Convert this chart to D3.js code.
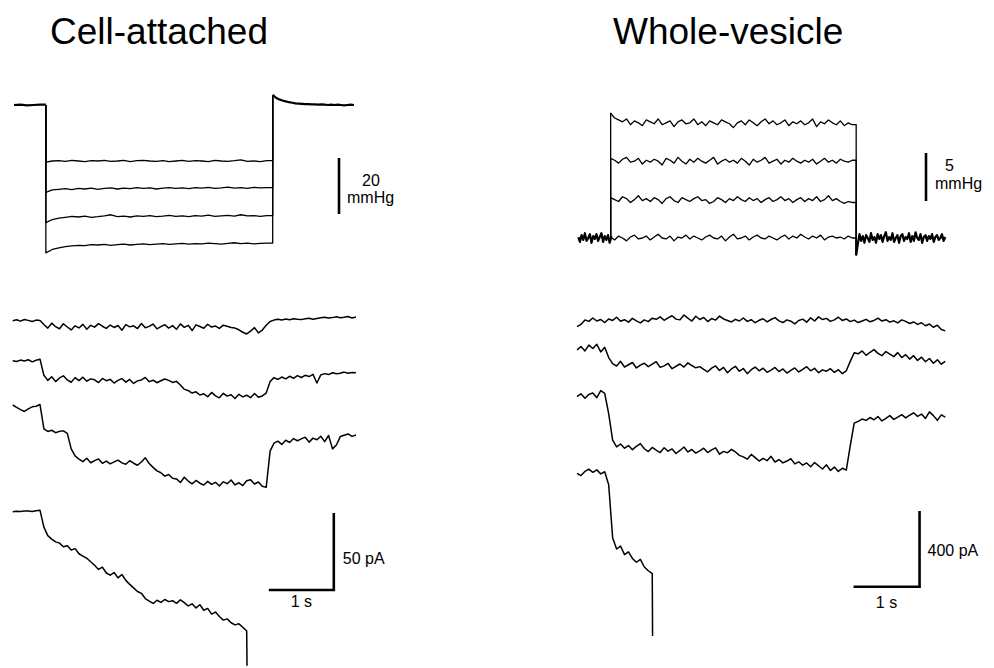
<!DOCTYPE html>
<meta charset="utf-8">
<title>Cell-attached / Whole-vesicle</title>
<style>
  body { margin: 0; background: #fff; }
  svg text { font-family: "Liberation Sans", Arial, sans-serif; fill: #000; }
</style>
<div id="viz"></div>
<script src="https://cdnjs.cloudflare.com/ajax/libs/d3/7.8.5/d3.min.js"></script>
<script>

// ---------- data ----------
var panelTitles = ["Cell-attached", "Whole-vesicle"];

// cell-attached pressure, mmHg (step from 0.51 s to 4.0 s)
var cellStepOn = 0.51, cellStepOff = 4.0;
var cellPressurePre = [0, 0.1, -0.1, 0.0, 0.1];                 // dt 0.1 s
var cellP20 = [-20.4, -20.0, -19.9, -20.1, -19.8, -20.0, -20.2, -19.9, -20.0, -19.8,
               -20.1, -20.0, -19.8, -20.2, -19.9, -19.8, -20.0, -20.1, -19.9, -20.2,
               -20.0, -19.8, -20.1, -19.9, -20.0, -20.2, -19.8, -20.0, -20.1, -19.9,
               -19.6, -20.1, -20.0, -20.2, -19.9];
var cellP30 = [-31.2, -30.3, -30.1, -29.9, -30.2, -29.8, -30.0, -29.7, -30.1, -29.8,
               -29.6, -30.0, -29.7, -29.9, -29.5, -29.8, -29.6, -30.0, -29.7, -29.5,
               -29.8, -29.6, -29.9, -29.5, -29.7, -29.4, -29.8, -29.6, -29.3, -29.7,
               -29.5, -29.8, -29.4, -29.6, -29.5];
var cellP40 = [-42.0, -40.9, -40.4, -40.1, -39.8, -40.0, -39.7, -40.1, -39.9, -39.6,
               -39.2, -39.9, -39.7, -40.0, -39.6, -39.8, -39.5, -39.9, -39.7, -39.4,
               -39.8, -39.6, -39.9, -39.5, -39.7, -39.3, -39.8, -39.6, -39.4, -39.7,
               -39.2, -39.6, -39.5, -39.8, -39.5];
var cellP50 = [-52.8, -51.6, -51.0, -50.6, -50.3, -50.1, -50.2, -49.9, -50.0, -49.8,
               -50.1, -49.9, -49.7, -50.0, -49.8, -49.6, -49.9, -49.7, -49.5, -49.8,
               -49.6, -49.4, -49.7, -49.5, -49.6, -49.3, -49.5, -49.7, -49.4, -49.2,
               -49.5, -49.3, -49.6, -49.4, -49.3];
var cellPressurePost = [3.6, 2.6, 2.0, 1.6, 1.3, 1.0, 0.8, 0.6, 0.5, 0.4, 0.3, 0.3, 0.2,
                        0.2, 0.1, 0.2, 0.1, 0.0, 0.1, 0.0, 0.1, 0.0, -0.1, 0.0, 0.1, 0.0]; // dt 0.05 s

// cell-attached currents, pA, dt 0.06 s
var cellI1 = [0, 0.6, -0.3, 0.8, 0.2, -0.5, 0.4, 0.1,
  -2.5, -4.8, -1.6, -3.9, -5.2, -2.0, -4.1, -6.0, -3.3, -4.7, -2.4, -5.5, -3.0,
  -4.2, -1.9, -3.6, -5.0, -2.8, -4.4, -3.1, -6.2, -2.5, -4.0, -3.3, -5.1, -1.8, -4.6, -3.7, -2.2, -5.3, -3.9, -2.6, -4.8,
  -3.2, -5.6, -2.1, -4.3, -3.0, -6.4, -2.7, -3.8, -4.9, -2.3, -4.1, -3.5, -5.0, -2.9, -3.6, -4.4,
  -4.8, -5.9, -7.5, -8.6, -6.8, -4.5, -7.9, -6.1, -3.0,
  -0.5, 0.4, 0.9, 0.5, 1.1, 0.6, 1.3, 0.9, 0.7, 1.2, 1.6, 1.0, 1.5, 1.9, 2.3, 1.8, 2.0, 2.5, 1.9, 2.2, 2.7, 1.8, 2.4];
var cellI2 = [0, -0.5, 0.4, -0.2, 0.6, -0.8, 0.3, 1.0,
  -9.5, -12.8, -10.4, -13.6, -11.2, -9.8, -12.5, -14.0, -11.0, -12.9, -10.7, -13.3, -11.8,
  -12.4, -14.2, -11.5, -13.0, -12.1, -14.5, -12.8, -11.6, -13.9, -12.2, -14.8, -13.1, -12.5, -10.9, -13.6, -12.7, -14.3, -13.0, -11.9, -12.8, -14.1, -13.4,
  -15.8, -18.6, -19.4, -21.0, -20.2, -22.3,
  -21.5, -23.4, -20.6, -22.8, -24.1, -21.2, -23.0, -22.1, -24.6, -21.8, -23.5, -22.4, -24.0, -21.3, -23.7, -22.9,
  -21.0,
  -13.5, -11.0, -12.2, -10.6, -11.8, -10.1, -11.4, -9.7, -10.9, -9.5, -10.3, -8.9, -14.5, -9.2, -8.4, -9.0, -7.8, -8.5, -8.1, -7.4, -8.2, -7.6, -7.9];
var cellI3 = [0, -1.5, -3.0, -4.2, -2.5, -1.2, -0.8, 0.3,
  -15.5, -17.2, -16.4, -18.0, -17.1, -16.8, -18.4,
  -28.5, -33.0,
  -35.2, -36.8, -34.6, -37.5, -36.1, -35.0, -37.9, -36.4, -38.2, -36.9, -35.8, -37.6, -38.5, -36.2, -37.8, -39.1, -37.0, -34.3, -38.0,
  -40.5, -42.8, -44.0, -46.2, -45.1, -47.6,
  -48.0, -50.3, -46.9, -49.4, -51.2, -49.0, -50.8, -52.0, -49.6, -51.5, -50.2, -52.6, -49.9, -51.1, -48.7, -51.9, -50.5, -52.3, -49.2, -48.5, -51.3, -50.0, -52.8, -53.5,
  -30.0, -24.8, -23.5, -25.6, -22.9, -24.3, -21.8, -23.2, -22.0, -20.9, -24.1, -21.5, -22.6, -20.3, -23.8, -19.8, -28.5, -26.0, -20.5, -19.6, -18.8, -20.4, -19.5];
var cellI4 = [0, 0.3, 0.2, 0.5, 0.4, 0.2, 0.6, 0.9,
  -10.0, -15.5, -17.8, -19.6, -20.4, -22.8, -22.1, -24.9, -24.0, -27.3, -28.9, -30.2, -32.5,
  -34.8, -37.5, -36.0, -39.8, -41.2, -39.5, -43.0, -40.8, -44.6, -47.2, -49.5, -51.8, -53.0,
  -56.4, -58.0, -59.6, -57.5, -58.9, -57.0, -58.4, -57.8, -59.5, -57.2, -59.0, -61.2, -59.8,
  -62.5, -60.4, -64.0, -62.8, -66.5, -65.2, -68.0, -70.4, -69.6, -72.1, -73.5, -72.8, -75.0, -77.5];
var cellI4End = -100;

// whole-vesicle pressure, mmHg (step from 0.51 s to 4.23 s)
var vesStepOn = 0.51, vesStepOff = 4.23;
var vesPressurePre = [0.1, -0.4, 0.3, -0.2, 0.5, -0.3, 0.0, 0.4, -0.5, 0.2, -0.1,
                      0.4, -0.3, 0.1, 0.5, -0.4, 0.2, -0.2, 0.3, -0.5, 0.1];          // dt 0.025 s
var vesP12 = [13.0, 12.5, 12.3, 12.1, 12.4, 11.8, 12.2, 12.0, 11.7, 12.3,
              12.1, 11.9, 12.4, 11.8, 12.0, 12.2, 11.6, 12.1, 12.3, 11.9,
              12.0, 12.4, 11.8, 12.1, 11.7, 12.2, 12.0, 11.8, 12.3, 12.1,
              11.9, 11.5, 12.0, 12.2, 11.8, 12.3, 12.0, 11.7, 12.1, 12.4,
              11.9, 12.2, 11.8, 12.0, 12.3, 11.7, 12.1, 11.9, 12.2, 11.8,
              12.0, 12.4, 11.6, 12.1, 11.9, 12.3, 12.0, 11.8, 12.2, 11.7, 12.0, 11.8];
var vesP8 = [8.3, 8.1, 7.8, 8.2, 8.4, 7.9, 8.0, 8.3, 7.7, 8.1,
             7.9, 8.2, 8.0, 7.6, 8.3, 8.1, 7.8, 8.4, 8.0, 7.7,
             8.2, 7.9, 8.3, 8.0, 7.8, 8.1, 8.4, 7.7, 8.0, 8.2,
             7.9, 8.1, 7.8, 8.3, 8.0, 7.6, 8.2, 7.9, 8.1, 8.4,
             7.8, 8.0, 8.2, 7.7, 8.1, 7.9, 8.3, 8.0, 7.8, 8.1,
             7.9, 8.2, 7.7, 8.0, 8.3, 7.9, 8.1, 7.8, 8.2, 8.0, 7.9, 8.1];
var vesP4 = [4.2, 4.0, 3.8, 4.3, 4.1, 3.7, 4.0, 4.4, 3.9, 4.1,
             3.8, 4.2, 4.0, 3.6, 4.1, 4.3, 3.9, 3.7, 4.2, 4.0,
             3.8, 4.1, 4.3, 3.9, 4.0, 3.6, 3.8, 4.2, 4.0, 3.7,
             4.1, 3.9, 4.3, 4.0, 3.8, 4.2, 3.9, 4.1, 3.7, 4.0,
             4.2, 3.8, 4.0, 4.3, 3.9, 4.1, 3.7, 4.0, 4.2, 3.8,
             4.1, 3.9, 4.3, 3.8, 4.0, 4.4, 3.9, 4.1, 3.8, 3.6, 3.8, 3.7];
var vesP0 = [0.1, -0.2, 0.2, 0.0, -0.3, 0.1, 0.3, -0.1, 0.0, 0.2,
             -0.2, 0.1, 0.4, 0.0, -0.1, 0.2, -0.3, 0.1, 0.0, 0.3,
             -0.1, 0.2, 0.0, -0.2, 0.1, 0.3, 0.0, -0.1, 0.2, -0.3,
             0.1, 0.4, -0.1, 0.0, 0.2, -0.2, 0.1, 0.3, 0.0, -0.1,
             0.2, 0.0, -0.2, 0.1, 0.3, -0.1, 0.2, 0.0, 0.4, 0.1,
             -0.1, 0.2, 0.0, 0.3, -0.2, 0.1, 0.2, 0.0, 0.1, -0.1, 0.2, 0.0];
var vesPressurePost = [-1.8, -0.6, 0.4, -0.3, 0.2, -0.5, 0.3, 0.0, -0.4, 0.5,
                       -0.2, 0.1, -0.5, 0.4, -0.1, 0.3, -0.4, 0.2, 0.6, -0.3,
                       0.1, -0.2, 0.5, -0.4, 0.0, 0.3, -0.5, 0.2, 0.4, -0.3,
                       0.1, -0.1, 0.5, -0.4, 0.2, -0.3, 0.6, 0.0, -0.2, 0.4,
                       -0.5, 0.1, 0.3, -0.3, 0.2, -0.1, 0.4, -0.4, 0.1, 0.3,
                       -0.2, 0.0, 0.4, -0.3, 0.1];                                  // dt 0.025 s

// whole-vesicle currents, pA, dt 0.06 s
var vesI1 = [0, 12, 35, 28, 46, 30, 38, 22, 41, 33, 50, 29, 37, 24, 44, 31, 20, 36, 27, 45,
  39, 52, 34, 47, 58, 40, 36, 62, 45, 30, 55, 38, 49, 27, 43, 35, 56, 41, 33, 25,
  39, 30, 46, 28, 37, 21, 34, 42, 26, 38, 48, 31, 22, 36, 29, 15, 33, 40, 24, 47,
  30, 52, 38, 44, 28, 36, 50, 33, 41, 27, 35, 22, 30, 39, 26, 33, 45, 30, 37, 24,
  31, 20, 36, 28, 17, 25, 12, 21, 5, 14, -3, 8, -15, -22];
var vesI2 = [0, 18, -5, 26, 8, 30, -10, 14,
  -40,
  -72, -85, -60, -90, -78, -66, -95, -80, -70, -88, -75, -62, -92, -84, -71, -99, -86, -74, -90, -68, -82, -94,
  -88, -102, -115, -96, -84, -108, -92, -120, -100, -86, -112, -98, -125, -104, -90, -110, -96, -118, -106, -92,
  -114, -100, -122, -108, -95, -116, -102, -88, -110, -97, -120, -105, -112, -99,
  -118, -104, -125, -110,
  -60, -15,
  -20, -5, -28, -12, 2, -18, -30, -8, -22, -35, -14, -40, -25, -48, -30, -55, -38, -62, -45, -70, -52, -75, -60];
var vesI3 = [0, 15, -8, 12, 20, -5, 32, 18,
  -90, -230,
  -265, -250, -272, -258, -280, -262, -248, -275, -290, -268, -282, -295, -270, -288, -276, -300,
  -284, -266, -292, -279, -298, -286, -272, -295, -281, -270, -304, -289, -296, -278, -292,
  -310, -318, -330, -305, -322, -340, -326, -338, -315, -345, -332, -350, -340, -328,
  -355, -344, -362, -350, -370, -348, -365, -382, -360, -390, -372, -395, -378, -388,
  -260, -140,
  -130, -118, -125, -110, -122, -105, -128, -115, -100, -120, -108, -95, -112, -98, -85, -104,
  -92, -115, -80, -100, -125, -96, -108];
var vesI4 = [0, -12, 10, 22, 5, 18, -3, 8,
  -60, -340, -400, -385, -430, -415, -450, -470, -455, -495, -515, -530];
var vesI4End = -860;

// scale bar labels
var pressureBarLabels = [["20", "mmHg"], ["5", "mmHg"]];
var currentBarLabels = ["50 pA", "400 pA"];
var timeBarLabel = "1 s";

// ---------- drawing ----------
var W = 994, H = 668;
var svg = d3.select("#viz").append("svg")
  .attr("width", W).attr("height", H);
svg.append("rect").attr("width", W).attr("height", H).attr("fill", "#fff");

var xL = d3.scaleLinear().domain([0, 5.28]).range([12.7, 355.9]);
var xR = d3.scaleLinear().domain([0, 5.6]).range([577, 946.6]);
var yLP = d3.scaleLinear().domain([0, -50]).range([105, 245]);
var yRP = d3.scaleLinear().domain([0, 12]).range([238, 122.8]);

function seq(vals, t0, dt) {
  return vals.map(function(v, i) { return [t0 + i * dt, v]; });
}

function trace(pts, x, y, w) {
  svg.append("path").datum(pts)
    .attr("d", d3.line().x(function(d) { return x(d[0]); }).y(function(d) { return y(d[1]); }))
    .attr("fill", "none")
    .attr("stroke", "#000")
    .attr("stroke-width", w)
    .attr("stroke-linejoin", "round");
}

function pressureSet(x, y, pre, dtPre, steps, dtStep, post, dtPost, on, off) {
  trace(seq(pre, 0.02, dtPre).concat([[on, pre[pre.length - 1]]]), x, y, 2.2);
  steps.forEach(function(s) {
    var pts = [[on, 0]].concat(seq(s, on, dtStep));
    pts.push([off, s[s.length - 1]]);
    pts.push([off, post[0]]);
    trace(pts, x, y, 1.3);
  });
  trace(seq(post, off, dtPost), x, y, 2.2);
}

pressureSet(xL, yLP, cellPressurePre, 0.1, [cellP20, cellP30, cellP40, cellP50], 0.1,
            cellPressurePost, 0.05, cellStepOn, cellStepOff);
pressureSet(xR, yRP, vesPressurePre, 0.025, [vesP12, vesP8, vesP4, vesP0], 0.06,
            vesPressurePost, 0.025, vesStepOn, vesStepOff);

// current rows: pixel position of each trace's starting level
var cellRows = [320.7, 360.7, 405, 511.7];
var vesRows = [326.7, 350, 396.7, 473.3];

function currentSet(x, rows, traces, fullScale, fullPx, endValue) {
  traces.forEach(function(vals, k) {
    var y = d3.scaleLinear().domain([0, -fullScale]).range([rows[k], rows[k] + fullPx]);
    var pts = seq(vals, 0, 0.06);
    if (k === traces.length - 1) pts.push([pts[pts.length - 1][0] + 0.005, endValue]);
    trace(pts, x, y, 1.5);
  });
}

currentSet(xL, cellRows, [cellI1, cellI2, cellI3, cellI4], 50, 77, cellI4End);
currentSet(xR, vesRows, [vesI1, vesI2, vesI3, vesI4], 400, 75.7, vesI4End);

// titles
svg.selectAll("text.title").data(panelTitles).enter().append("text")
  .attr("class", "title")
  .attr("x", function(d, i) { return i === 0 ? 50 : 613; })
  .attr("y", 44)
  .attr("font-size", 37)
  .text(function(d) { return d; });

// scale bars
function bar(x1, y1, x2, y2) {
  svg.append("line").attr("x1", x1).attr("y1", y1).attr("x2", x2).attr("y2", y2)
    .attr("stroke", "#000").attr("stroke-width", 2.6);
}
function label(x, y, t, anchor) {
  svg.append("text").attr("x", x).attr("y", y).attr("font-size", 16)
    .attr("text-anchor", anchor || "start").text(t);
}

// pressure bars: 20 mmHg (left), 5 mmHg (right)
var lpLen = yLP(-20) - yLP(0);
bar(339, 158, 339, 158 + lpLen);
label(362, 186, pressureBarLabels[0][0]);
label(347, 203, pressureBarLabels[0][1]);

var rpLen = yRP(0) - yRP(5);
bar(926, 153, 926, 153 + rpLen);
label(945, 171, pressureBarLabels[1][0]);
label(935, 189, pressureBarLabels[1][1]);

// current / time bars
var cellPx = 77, vesPx = 75.7;
bar(xL(4.94), 513, xL(4.94), 513 + cellPx);
bar(xL(3.94), 513 + cellPx, xL(4.94) + 1.3, 513 + cellPx);
label(xL(4.94) + 9, 564, currentBarLabels[0]);
label((xL(3.94) + xL(4.94)) / 2, 607, timeBarLabel, "middle");

bar(xR(5.19), 511, xR(5.19), 511 + vesPx);
bar(xR(4.19), 511 + vesPx, xR(5.19) + 1.3, 511 + vesPx);
label(xR(5.19) + 8, 556, currentBarLabels[1]);
label((xR(4.19) + xR(5.19)) / 2, 608, timeBarLabel, "middle");

</script>
